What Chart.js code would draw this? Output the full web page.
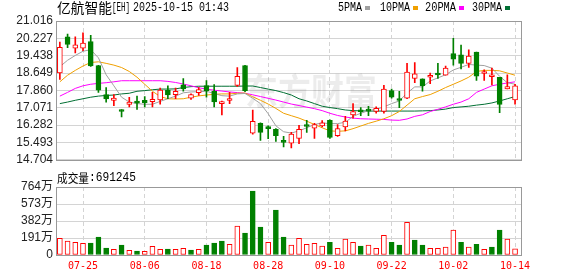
<!DOCTYPE html>
<html>
<head>
<meta charset="utf-8">
<script src="https://cdn.jsdelivr.net/npm/chart.js@4.4.1/dist/chart.umd.min.js"></script>
<style>
  html, body { margin: 0; padding: 0; background: #fff; }
  #wrap { position: relative; width: 578px; height: 276px; }
  #kline { position: absolute; left: 0; top: 0; }
  #vol { position: absolute; left: 0; top: 165px; }
</style>
</head>
<body>
<div id="wrap">
  <canvas id="kline" width="578" height="170"></canvas>
  <canvas id="vol" width="578" height="111"></canvas>
</div>
<script>
// 亿航智能[EH] daily K line, 2025-07-22 .. 2025-10-14
var opens  = [18.65,20.30,19.78,19.78,20.08,18.99,17.67,17.41,16.98,17.22,17.38,17.41,17.35,17.43,17.86,17.67,18.11,17.51,17.76,18.08,
              17.82,17.26,17.40,18.09,18.99,15.92,16.36,16.17,16.09,15.52,15.46,15.68,16.25,16.14,16.24,16.50,15.80,16.20,16.75,16.91,
              16.94,16.90,16.90,17.85,17.42,17.51,18.40,18.39,18.46,18.65,18.55,19.53,19.48,19.09,19.60,18.63,18.48,18.46,17.93,17.43];
var highs  = [20.06,20.42,20.30,20.48,20.36,19.00,17.99,17.67,16.99,17.55,17.60,17.58,17.77,17.96,18.07,17.96,18.40,17.70,17.99,18.31,
              18.12,17.38,17.77,18.90,19.00,16.97,16.38,16.25,16.12,15.77,15.95,16.27,16.50,16.36,16.49,16.52,16.31,16.68,17.26,17.08,
              17.14,17.11,18.09,17.92,17.82,19.09,19.13,18.39,18.65,19.09,18.97,20.23,19.92,19.71,19.60,18.79,18.87,18.46,18.57,18.14];
var lows   = [18.36,19.80,19.57,19.67,18.95,17.77,17.33,17.16,16.65,17.11,17.00,17.11,17.11,17.23,17.48,17.48,17.82,17.45,17.63,17.55,
              17.11,16.75,17.26,18.04,17.80,15.87,15.58,15.66,15.54,15.29,15.24,15.44,15.95,15.68,16.20,15.68,15.77,16.02,16.60,16.71,
              16.71,16.82,16.82,17.51,17.08,17.48,18.21,17.82,18.17,18.40,18.55,19.01,18.84,18.90,18.31,18.31,18.11,16.85,17.93,17.23];
var closes = [19.82,19.95,19.93,20.01,18.97,17.87,17.47,17.51,16.90,17.33,17.28,17.30,17.45,17.87,17.65,17.82,17.93,17.67,17.90,17.85,
              17.34,17.27,17.46,18.50,17.85,16.45,15.95,16.12,15.80,15.50,15.87,16.09,16.22,16.30,16.38,15.72,16.12,16.46,16.90,16.89,
              16.92,17.04,17.92,17.55,17.40,18.69,18.61,18.07,18.53,18.56,18.87,19.28,19.09,19.42,18.51,18.68,18.54,17.22,18.03,18.07];

var ma5  = [18.94,19.23,19.45,19.64,19.71,19.34,18.57,18.07,17.55,17.33,17.26,17.23,17.23,17.36,17.48,17.60,17.75,17.79,17.80,17.82,
            17.72,17.62,17.60,17.70,17.72,17.50,17.26,16.80,16.25,15.98,15.92,16.02,16.16,16.31,16.38,16.35,16.35,16.41,16.68,16.82,
            16.94,17.00,17.11,17.26,17.38,17.74,18.02,18.02,18.29,18.43,18.57,18.79,18.91,19.04,19.01,18.99,18.87,18.50,18.21,18.14];
var ma10 = [18.25,18.55,18.77,18.97,19.13,19.16,19.09,19.01,18.90,18.72,18.46,18.14,17.82,17.58,17.48,17.47,17.48,17.55,17.61,17.65,
            17.68,17.70,17.70,17.73,17.74,17.57,17.41,17.24,17.04,16.82,16.71,16.60,16.46,16.31,16.16,16.02,16.00,16.02,16.12,16.24,
            16.36,16.46,16.57,16.71,16.90,17.19,17.48,17.58,17.67,17.82,17.99,18.14,18.29,18.46,18.72,18.77,18.77,18.75,18.65,18.55];
var ma20 = [17.60,17.77,17.95,18.07,18.14,18.18,18.21,18.25,18.30,18.30,18.30,18.30,18.30,18.30,18.27,18.22,18.15,18.07,17.98,17.92,
            17.87,17.83,17.79,17.76,17.73,17.66,17.58,17.50,17.42,17.33,17.24,17.17,17.10,17.03,16.94,16.82,16.72,16.65,16.60,16.57,
            16.56,16.55,16.54,16.51,16.50,16.56,16.68,16.75,16.90,17.00,17.11,17.23,17.33,17.48,17.77,17.92,18.07,18.14,18.20,18.25];
var ma30 = [17.26,17.33,17.41,17.48,17.55,17.60,17.63,17.65,17.70,17.73,17.82,17.85,17.89,17.92,17.92,17.93,17.99,18.03,18.05,18.05,
            18.05,18.05,18.05,18.05,18.06,18.06,17.99,17.92,17.85,17.76,17.65,17.48,17.38,17.26,17.14,17.08,17.03,16.97,16.94,16.93,
            16.92,16.92,16.92,16.92,16.92,16.92,16.92,16.93,16.94,16.97,17.01,17.08,17.11,17.14,17.19,17.23,17.29,17.38,17.48,17.58];

// volume in 万股, and whether the bar is drawn red (up vs. previous close)
var volumes = [188,157,143,131,135,202,79,64,112,53,45,42,98,64,67,64,75,56,64,112,
               135,157,120,326,247,719,315,143,506,202,112,188,120,131,101,143,75,180,143,101,
               112,75,221,143,112,367,169,112,75,75,90,281,143,90,120,64,90,281,180,69.1245];
var volUp = [1,1,1,1,0,0,0,1,0,1,0,1,1,1,0,1,1,0,1,0,
             0,0,1,1,0,0,0,1,0,0,1,1,1,1,1,0,1,1,1,0,
             1,1,1,0,0,1,0,0,1,1,1,1,0,1,0,1,0,0,1,1];

var priceTicks = [14.704,15.493,16.282,17.071,17.860,18.649,19.438,20.227,21.016];
var volTicks = [0,191,382,573,764];
var dateIdx = [3,11,19,27,35,43,51,59];
var dateLabels = ['07-25','08-06','08-18','08-28','09-10','09-22','10-02','10-14'];

var RED = '#ff0000', GREEN = '#008000';
var maColors = ['#a0a0a0', '#f0a000', '#ff00ff', '#006f33'];

function pts(arr) {
    return arr.map(function (v, i) { return { x: i, y: v }; });
}

var frame = {
    id: 'frame',
    afterDraw: function (chart) {
        var a = chart.chartArea, ctx = chart.ctx;
        ctx.save();
        ctx.strokeStyle = '#999';
        ctx.lineWidth = 1;
        ctx.strokeRect(Math.round(a.left) + 0.5, Math.round(a.top) + 0.5,
            Math.round(a.right - a.left) - 1, Math.round(a.bottom - a.top));
        ctx.restore();
    }
};

var header = {
    id: 'header',
    beforeDatasetsDraw: function (chart) {
        var ctx = chart.ctx;
        ctx.save();
        ctx.fillStyle = 'rgba(0,0,0,0.075)';
        ctx.font = 'bold 36px "Noto Sans CJK SC"';
        ctx.textBaseline = 'middle';
        ctx.fillText('东方财富', 245, 91, 132);
        ctx.restore();
    },
    afterDraw: function (chart) {
        var ctx = chart.ctx;
        ctx.save();
        ctx.fillStyle = '#000';
        ctx.textBaseline = 'middle';
        ctx.font = '14px "Noto Sans CJK SC"';
        ctx.fillText('亿航智能', 57, 8, 55);
        ctx.font = '12px "Liberation Mono"';
        ctx.fillText('[EH]', 112, 8, 18);
        ctx.fillText('2025-10-15 01:43', 133, 8, 96);

        var leg = [['5PMA', 338, 365], ['10PMA', 380, 413], ['20PMA', 425, 459], ['30PMA', 472, 505]];
        leg.forEach(function (l, k) {
            ctx.fillStyle = '#000';
            ctx.fillText(l[0], l[1], 8, l[2] - l[1] - 3);
            ctx.fillStyle = maColors[k];
            ctx.fillRect(l[2], 6, 5, 4);
        });
        ctx.restore();
    }
};

var volHeader = {
    id: 'volHeader',
    afterDraw: function (chart) {
        var ctx = chart.ctx;
        ctx.save();
        ctx.fillStyle = '#000';
        ctx.textBaseline = 'middle';
        ctx.font = '12px "Noto Sans CJK SC"';
        ctx.fillText('成交量', 57, 13, 32);
        ctx.font = '12px "Liberation Mono"';
        ctx.fillText(':691245', 89, 13, 47);
        ctx.restore();
    }
};

function xScale(showTicks) {
    return {
        type: 'linear',
        min: -0.5,
        max: 59.9,
        offset: false,
        grid: { color: '#d4d4d4', drawTicks: false, offset: false },
        border: { display: false, dash: [4, 3] },
        afterBuildTicks: function (s) {
            s.ticks = dateIdx.map(function (v) { return { value: v }; });
        },
        ticks: {
            display: showTicks,
            autoSkip: false,
            maxRotation: 0,
            padding: 5,
            color: RED,
            font: { family: '"DejaVu Sans Mono"', size: 10 },
            callback: function (v) { return dateLabels[dateIdx.indexOf(v)]; }
        },
        afterFit: function (s) { s.height = showTicks ? 21 : 0; }
    };
}

new Chart(document.getElementById('kline').getContext('2d'), {
    type: 'bar',
    data: {
        datasets: [
            {
                type: 'bar',
                data: opens.map(function (o, i) { return { x: i, y: [Math.min(o, closes[i]), Math.max(o, closes[i])] }; }),
                backgroundColor: closes.map(function (c, i) { return c >= opens[i] ? '#fff' : GREEN; }),
                borderColor: closes.map(function (c, i) { return c >= opens[i] ? RED : GREEN; }),
                borderWidth: 1,
                borderSkipped: false,
                barThickness: 5,
                minBarLength: 2,
                grouped: false,
                order: 0
            },
            {
                type: 'bar',
                data: lows.map(function (l, i) { return { x: i, y: [l, highs[i]] }; }),
                backgroundColor: closes.map(function (c, i) { return c >= opens[i] ? RED : GREEN; }),
                borderWidth: 0,
                barThickness: 1,
                grouped: false,
                order: 1
            },
            { type: 'line', data: pts(ma5), borderColor: maColors[0], borderWidth: 1, pointRadius: 0, order: 2 },
            { type: 'line', data: pts(ma10), borderColor: maColors[1], borderWidth: 1, pointRadius: 0, order: 3 },
            { type: 'line', data: pts(ma20), borderColor: maColors[2], borderWidth: 1, pointRadius: 0, order: 4 },
            { type: 'line', data: pts(ma30), borderColor: maColors[3], borderWidth: 1, pointRadius: 0, order: 5 }
        ]
    },
    options: {
        responsive: false,
        animation: false,
        events: [],
        layout: { padding: { left: 0, right: 56, top: 21, bottom: 5 } },
        plugins: { legend: { display: false }, tooltip: { enabled: false } },
        scales: {
            x: xScale(false),
            y: {
                min: 14.704,
                max: 21.016,
                afterBuildTicks: function (s) {
                    s.ticks = priceTicks.map(function (v) { return { value: v }; });
                },
                ticks: {
                    autoSkip: false,
                    padding: 3,
                    color: '#222',
                    font: { family: '"Liberation Sans"', size: 12 },
                    callback: function (v) { return v.toFixed(3); }
                },
                grid: { color: '#d4d4d4', drawTicks: false },
                border: { display: false },
                afterFit: function (s) { s.width = 56; }
            }
        }
    },
    plugins: [frame, header]
});

new Chart(document.getElementById('vol').getContext('2d'), {
    type: 'bar',
    data: {
        datasets: [{
            data: pts(volumes),
            backgroundColor: volUp.map(function (u) { return u ? '#fff' : GREEN; }),
            borderColor: volUp.map(function (u) { return u ? RED : GREEN; }),
            borderWidth: 1,
            borderSkipped: false,
            barThickness: 5,
            grouped: false
        }]
    },
    options: {
        responsive: false,
        animation: false,
        events: [],
        layout: { padding: { left: 0, right: 56, top: 22, bottom: 0 } },
        plugins: { legend: { display: false }, tooltip: { enabled: false } },
        scales: {
            x: xScale(true),
            y: {
                min: 0,
                max: 764,
                afterBuildTicks: function (s) {
                    s.ticks = volTicks.map(function (v) { return { value: v }; });
                },
                ticks: {
                    autoSkip: false,
                    padding: 3,
                    color: '#222',
                    font: { family: '"Liberation Sans", "Noto Sans CJK SC"', size: 12 },
                    callback: function (v) { return v === 0 ? '0' : v + '万'; }
                },
                grid: { color: '#d4d4d4', drawTicks: false },
                border: { display: false },
                afterFit: function (s) { s.width = 56; }
            }
        }
    },
    plugins: [frame, volHeader]
});
</script>
</body>
</html>
